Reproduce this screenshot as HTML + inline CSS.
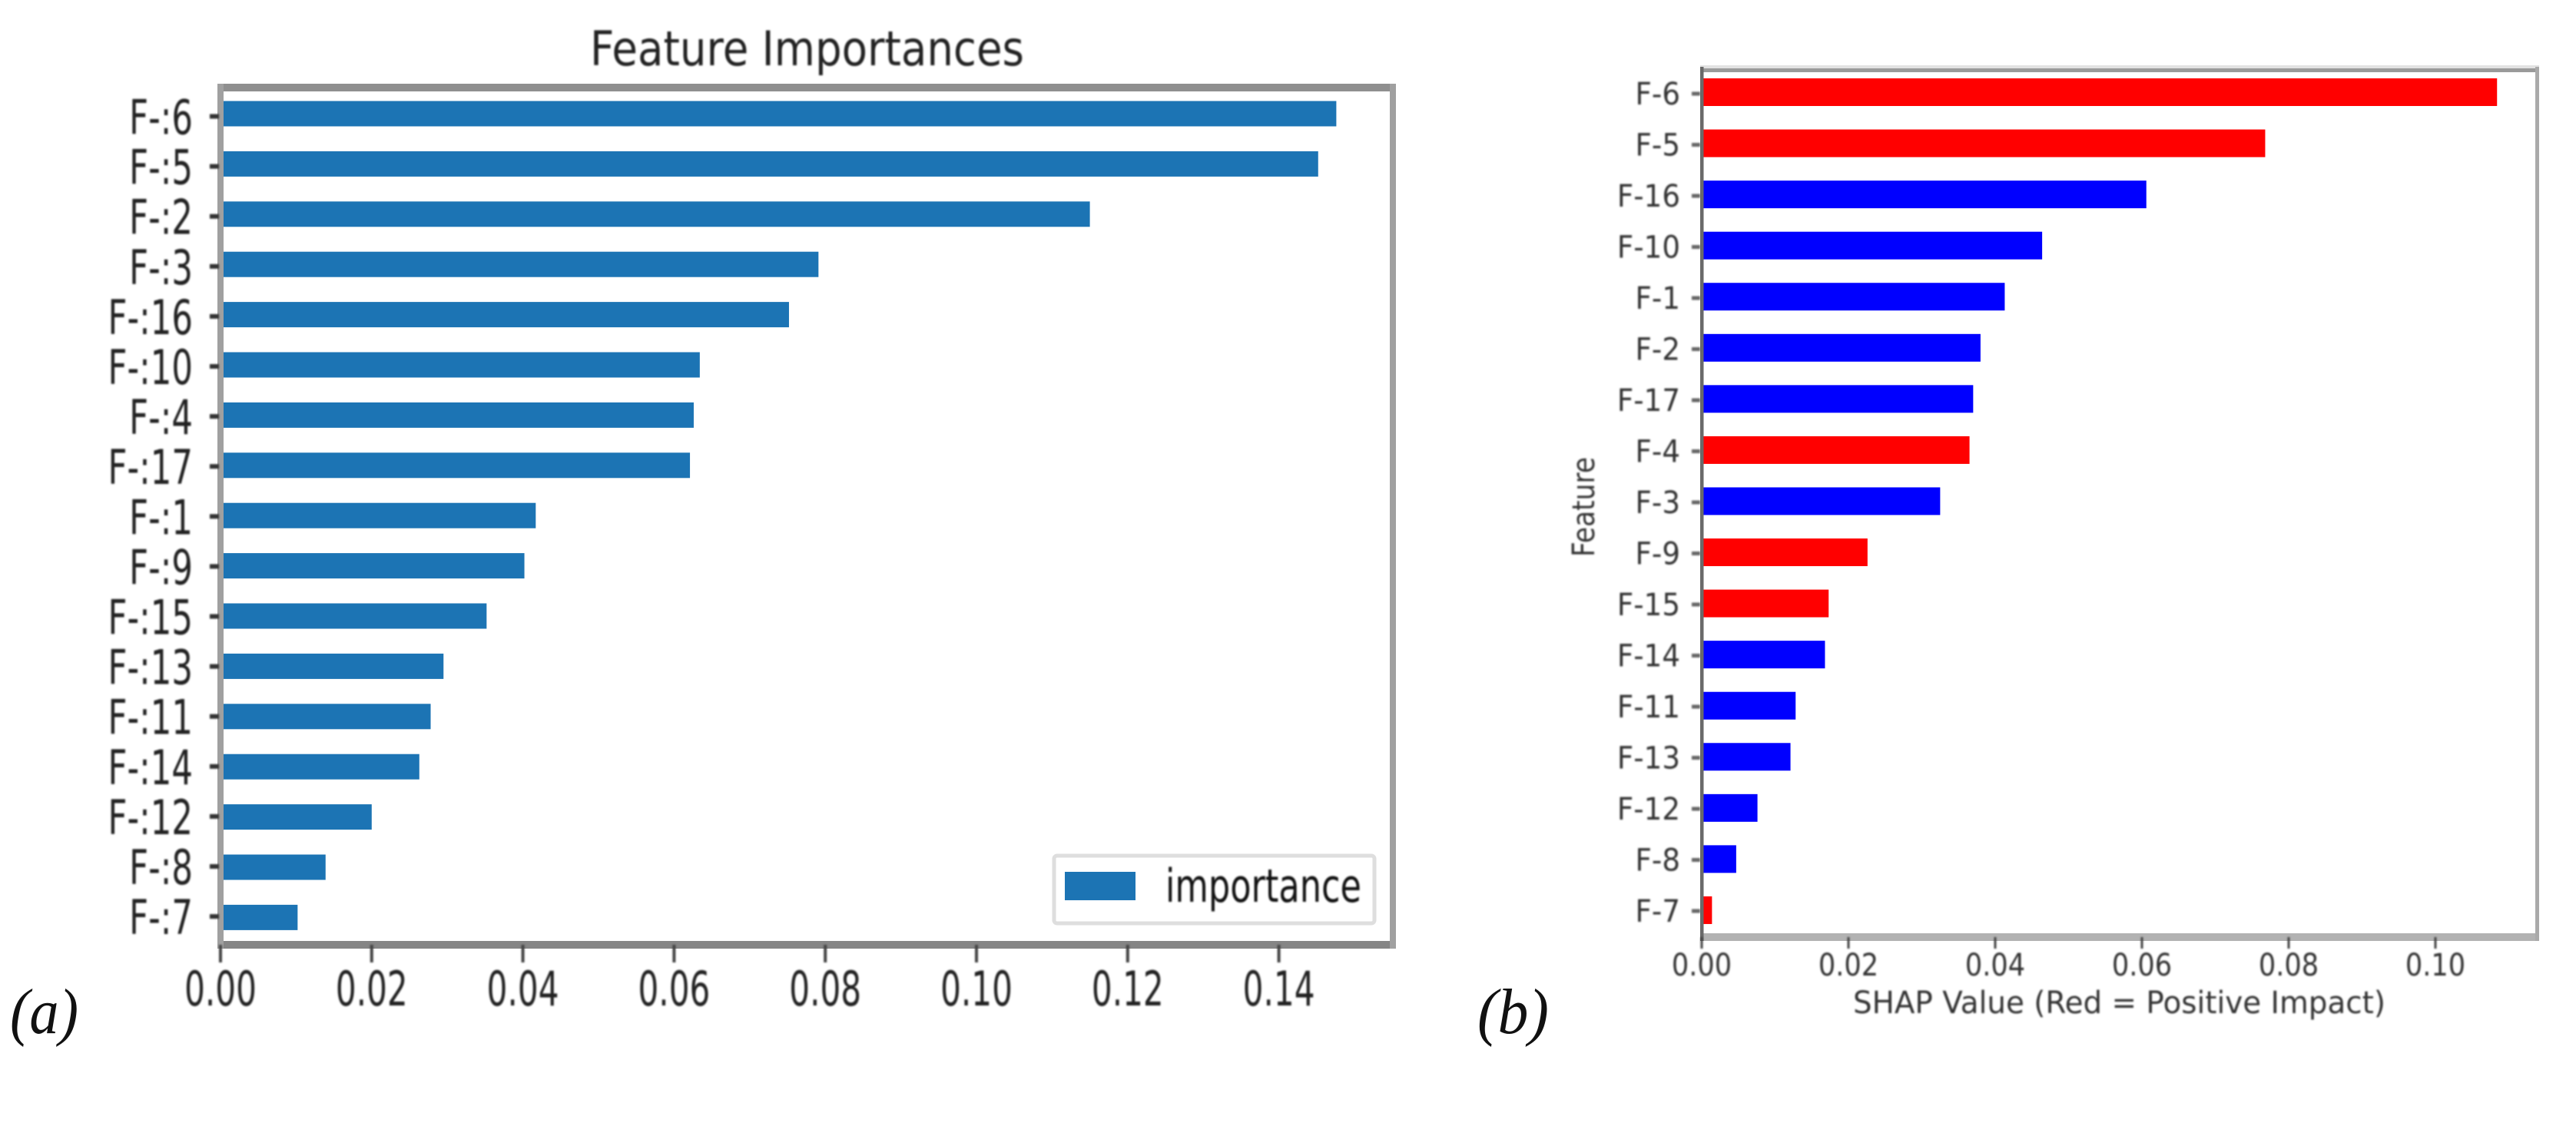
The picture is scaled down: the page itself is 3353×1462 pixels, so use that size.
<!DOCTYPE html>
<html lang="en">
<head>
<meta charset="utf-8">
<title>Feature Importances and SHAP Values</title>
<style>
html,body{margin:0;padding:0;background:#fff;width:3353px;height:1462px;overflow:hidden}
svg{display:block}
text{font-family:"DejaVu Sans","Liberation Sans",sans-serif}
.soft{filter:blur(1.1px)}
</style>
</head>
<body>
<svg id="chart" xmlns="http://www.w3.org/2000/svg" width="3353" height="1462" viewBox="0 0 3353 1462"></svg>
<script>
var importanceLabels = ['F-:6','F-:5','F-:2','F-:3','F-:16','F-:10','F-:4','F-:17','F-:1','F-:9','F-:15','F-:13','F-:11','F-:14','F-:12','F-:8','F-:7'];
var importanceValues = [0.1476,0.1452,0.115,0.0791,0.0752,0.0634,0.0626,0.0621,0.0417,0.0402,0.0352,0.0295,0.0278,0.0263,0.020,0.0139,0.0102];
var importanceTicks = [0,0.02,0.04,0.06,0.08,0.10,0.12,0.14];
var shapLabels = ['F-6','F-5','F-16','F-10','F-1','F-2','F-17','F-4','F-3','F-9','F-15','F-14','F-11','F-13','F-12','F-8','F-7'];
var shapValues = [0.1084,0.0768,0.0606,0.0464,0.0413,0.038,0.037,0.0365,0.0325,0.0226,0.0173,0.0168,0.0128,0.0121,0.0076,0.0047,0.0014];
var shapSigns = ['pos','pos','neg','neg','neg','neg','neg','pos','neg','pos','pos','neg','neg','neg','neg','neg','pos'];
var shapTicks = [0,0.02,0.04,0.06,0.08,0.10];

var svg = document.getElementById('chart');
var NS = 'http://www.w3.org/2000/svg';

function mk(tag, attrs, parent) {
  var el = document.createElementNS(NS, tag);
  for (var k in attrs) { el.setAttribute(k, attrs[k]); }
  (parent || svg).appendChild(el);
  return el;
}
function label(txt, x, y, size, sx, anchor, fill, parent) {
  var el = mk('text', {
    transform: 'translate(' + x + ',' + y + ') scale(' + sx + ',1)',
    'font-size': size, 'text-anchor': anchor, fill: fill
  }, parent);
  el.textContent = txt;
  return el;
}
function fitted(txt, x, y, size, len, fill, parent) {
  var el = mk('text', {
    x: x, y: y, 'font-size': size, fill: fill,
    textLength: len, lengthAdjust: 'spacingAndGlyphs'
  }, parent);
  el.textContent = txt;
  return el;
}

/* Axis functions: panel (a) */
function ax(v) { return 287 + 9840 * v; }
function ayBar(i) { return 148 + 65.4 * i; }
function ayTick(i) { return 151.5 + 65.1 * i; }
/* Axis functions: panel (b) */
function bx(v) { return 2215 + 9550 * v; }
function byBar(i) { return 120 + 66.56 * i; }
function byTick(i) { return 122 + 66.5 * i; }

/* ===== Panel (a) ===== */
var panelA = mk('g', {});



importanceValues.forEach(function (v, i) {
  var bar = mk('rect', { x: ax(0), y: ayBar(i) - 16.5, width: ax(v) - ax(0), height: 33, fill: '#1c74b4' }, panelA);
  
  
});

var aSpines = mk('g', { fill: '#8f8f8f' }, panelA);


mk('rect', { x: 283, y: 109, width: 1534, height: 10 }, aSpines);
mk('rect', { x: 283, y: 1225, width: 1534, height: 10, fill: '#858585' }, aSpines);
mk('rect', { x: 283, y: 109, width: 8, height: 1126, fill: '#a0a0a0' }, aSpines);
mk('rect', { x: 1809, y: 109, width: 8, height: 1126, fill: '#a0a0a0' }, aSpines);

var aText = mk('g', { 'class': 'soft' }, panelA);

var aTitle = fitted('Feature Importances', 768, 85, 62, 565, '#222', aText);



importanceLabels.forEach(function (name, i) {
  var t = mk('rect', { x: 273, y: ayTick(i) - 3, width: 12, height: 6, fill: '#333' }, aText);
  
  
  var l = label(name, 251, ayTick(i) + 23, 62, 0.7, 'end', '#222', aText);
  
  
});

importanceTicks.forEach(function (v) {
  var t = mk('rect', { x: ax(v) - 2, y: 1230, width: 4, height: 23, fill: '#444' }, aText);
  
  
  var l = label(v.toFixed(2), ax(v), 1309, 62, 0.68, 'middle', '#222', aText);
  
  
});

var legend = mk('g', {}, panelA);


mk('rect', { x: 1372, y: 1114, width: 417, height: 88, rx: 4, fill: '#fff', stroke: '#dedede', 'stroke-width': 5 }, legend);
var swatch = mk('rect', { x: 1386, y: 1135, width: 92, height: 37, fill: '#1c74b4' }, legend);


var legendText = fitted('importance', 1517, 1174, 60, 255, '#111', legend);
legendText.setAttribute('class', 'soft');



var tagA = fitted('(a)', 13, 1345, 84, 89, '#111', panelA);
tagA.setAttribute('style', 'font-family:"Liberation Serif",serif;font-style:italic');



/* ===== Panel (b) ===== */
var panelB = mk('g', {});



shapValues.forEach(function (v, i) {
  var bar = mk('rect', {
    x: bx(0), y: byBar(i) - 18, width: bx(v) - bx(0), height: 36,
    fill: shapSigns[i] === 'pos' ? '#ff0000' : '#0000ff'
  }, panelB);
  
  
});

var bSpines = mk('g', {}, panelB);


mk('rect', { x: 2213, y: 85, width: 1092, height: 4, fill: '#e2e2e2' }, bSpines);
mk('rect', { x: 2213, y: 89, width: 1092, height: 5, fill: '#9a9a9a' }, bSpines);
mk('rect', { x: 2213, y: 1215, width: 1092, height: 10, fill: '#b2b2b2' }, bSpines);
mk('rect', { x: 2213, y: 87, width: 4.5, height: 1138, fill: '#696969' }, bSpines);
mk('rect', { x: 3300, y: 87, width: 5, height: 1138, fill: '#aaaaaa' }, bSpines);

var bText = mk('g', { 'class': 'soft' }, panelB);

shapLabels.forEach(function (name, i) {
  var t = mk('rect', { x: 2202, y: byTick(i) - 2.5, width: 11, height: 5, fill: '#666' }, bText);
  
  
  var l = label(name, 2187, byTick(i) + 14, 40, 0.93, 'end', '#333', bText);
  
  
});

shapTicks.forEach(function (v) {
  var t = mk('rect', { x: bx(v) - 1.5, y: 1220, width: 3, height: 15, fill: '#444' }, bText);
  
  
  var l = label(v.toFixed(2), bx(v), 1270, 40, 0.88, 'middle', '#333', bText);
  
  
});

var xTitle = fitted('SHAP Value (Red = Positive Impact)', 2412, 1319, 40, 693, '#333', bText);



var yTitle = mk('text', {
  transform: 'translate(2075,725) rotate(-90)',
  'font-size': 40, fill: '#333', textLength: 130, lengthAdjust: 'spacingAndGlyphs'
}, bText);
yTitle.textContent = 'Feature';



var tagB = fitted('(b)', 1923, 1345, 84, 93, '#111', panelB);
tagB.setAttribute('style', 'font-family:"Liberation Serif",serif;font-style:italic');


</script>
</body>
</html>
